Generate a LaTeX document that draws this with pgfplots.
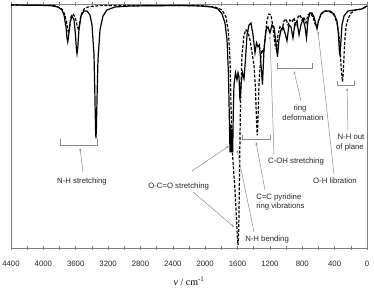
\documentclass[border=0pt]{standalone}
\usepackage{fontspec}
\setmainfont{Liberation Sans}
\newfontfamily\serif{Liberation Serif}
\usepackage{pgfplots}
\pgfplotsset{compat=1.18}
\usetikzlibrary{arrows.meta}
\definecolor{axgray}{gray}{0.5}
\definecolor{angray}{gray}{0.55}
\definecolor{txt}{gray}{0.15}
\begin{document}
\begin{tikzpicture}
\useasboundingbox (-11bp,-40bp) rectangle (363bp,248bp);
\begin{axis}[
  at={(0,0)}, anchor=south west, scale only axis,
  width=356bp, height=244bp,
  xmin=0, xmax=4400, x dir=reverse,
  ymin=-244, ymax=1,
  ytick=\empty,
  xtick={0,400,...,4400},
  minor xtick={200,600,...,4200},
  tick align=center,
  major tick length=4bp, minor tick length=4bp,
  axis line style={axgray, line width=0.6bp},
  every tick/.style={axgray, line width=0.5bp},
  xticklabel style={font=\fontsize{7.8}{9}\selectfont, text=txt, yshift=-7.5bp},
  /pgf/number format/assume math mode=true,
  /pgf/number format/1000 sep={},
  xlabel={{\serif\fontsize{10}{12}\selectfont\textit{ν} / cm\textsuperscript{-1}}},
  xlabel style={at={(axis description cs:0.5,0)}, anchor=center, yshift=-33bp},
  clip=false,
]
% sample 1 (solid)
\addplot[black, line width=1.2bp] coordinates {
(4400,0) (3918,-0.5) (3819,-2) (3770,-5) (3745,-10) (3720,-22) (3708,-33) (3699,-37) (3689,-32)
(3671,-18) (3646,-11) (3621,-15) (3603,-30) (3591,-45) (3584,-49) (3576,-44) (3560,-25)
(3535,-11) (3498,-6) (3461,-6) (3424,-10) (3399,-20) (3374,-50) (3362,-95) (3355,-125)
(3350,-134) (3345,-125) (3337,-95) (3325,-55) (3300,-25) (3263,-11) (3214,-5) (3115,-2)
(2929,-1) (2311,-0.5) (2064,-1) (1916,-2) (1842,-4) (1792,-9) (1755,-18) (1730,-35)
(1712,-70) (1700,-120) (1693,-148) (1685,-120) (1677,-148) (1669,-125) (1660,-148)
(1653,-110) (1644,-80) (1625,-68) (1607,-75) (1594,-68) (1582,-72) (1570,-96) (1557,-80)
(1539,-68) (1520,-74) (1502,-55) (1483,-30) (1458,-20) (1434,-18) (1409,-30) (1384,-48)
(1366,-38) (1347,-42) (1329,-40) (1310,-60) (1292,-80) (1273,-45) (1248,-25) (1224,-22)
(1199,-28) (1174,-20) (1149,-22) (1125,-38) (1106,-52) (1088,-35) (1063,-25) (1038,-22)
(1014,-28) (989,-36) (964,-20) (939,-22) (915,-33) (890,-18) (865,-17) (840,-30)
(816,-20) (791,-14) (766,-22) (748,-33) (729,-15) (705,-8) (680,-8) (655,-12) (630,-20)
(618,-24) (599,-16) (569,-9) (519,-6) (457,-6) (408,-9) (371,-16) (352,-30) (340,-48)
(334,-50) (325,-40) (309,-20) (284,-11) (235,-6) (148,-5) (62,-4) (0,-1)
};
% sample 2 (dashed)
\addplot[black, line width=1.2bp, dash pattern=on 3bp off 1.6bp] coordinates {
(4400,0) (3856,-0.5) (3770,-4) (3733,-10) (3708,-20) (3689,-28) (3677,-24) (3659,-12)
(3634,-9) (3609,-12) (3584,-20) (3566,-25) (3554,-20) (3535,-10) (3498,-4) (3448,-2)
(3300,-0.5) (2064,-0.5) (1879,-2) (1792,-5) (1743,-12) (1712,-28) (1693,-55) (1681,-100)
(1669,-140) (1650,-165) (1632,-185) (1613,-215) (1601,-235) (1594,-241) (1585,-225)
(1576,-170) (1564,-100) (1545,-50) (1520,-30) (1496,-25) (1471,-27) (1446,-35)
(1421,-48) (1397,-60) (1378,-85) (1366,-115) (1356,-131) (1347,-115) (1335,-80)
(1316,-55) (1298,-45) (1279,-48) (1261,-35) (1236,-15) (1211,-9) (1187,-10) (1162,-22)
(1137,-40) (1119,-45) (1100,-30) (1075,-22) (1051,-25) (1026,-16) (1001,-14) (976,-20)
(952,-15) (927,-17) (902,-13) (878,-20) (853,-12) (828,-10) (803,-15) (779,-12)
(754,-18) (729,-10) (705,-8) (667,-12) (637,-20) (618,-22) (593,-14) (556,-8) (519,-6)
(457,-7) (408,-10) (371,-18) (346,-30) (328,-50) (315,-68) (303,-77) (293,-68)
(278,-40) (260,-22) (235,-14) (198,-8) (136,-5) (62,-4) (0,-1)
};
\end{axis}
\begin{scope}[x=1bp, y=-1bp, shift={(-11bp,248bp)}, angray, line width=0.5bp,
  every node/.style={text=txt, font=\fontsize{7.8}{9.2}\selectfont, inner sep=0pt},
  arr/.style={-{Stealth[length=3bp,width=2bp]}}]
% N-H stretching
\draw (60,139) -- (60,145) -- (97,145) -- (97,139);
\draw[arr] (83,172) -- (80,148);
\node at (82,181) {N-H stretching};
% O-C=O stretching
\node[anchor=west] at (148,186) {O-C=O stretching};
\draw[arr] (192,171) -- (229,146);
\draw[arr] (193,192) -- (234,227);
% N-H bending
\node[anchor=west] at (245,239) {N-H bending};
\draw[arr] (254,232) -- (237,150);
% C=C pyridine
\draw (242,135) -- (242,139) -- (270,139) -- (270,135);
\draw[arr] (265,190) -- (256,142);
\node[anchor=west] at (256,197) {C=C pyridine};
\node[anchor=west] at (256,206) {ring vibrations};
% C-OH stretching
\draw[arr] (274,155) -- (270,36);
\node at (296,161) {C-OH stretching};
% ring deformation
\draw (277,63) -- (277,68) -- (312,68) -- (312,63);
\draw[arr] (301,101) -- (294,71);
\node at (300,108) {ring};
\node at (303,118) {deformation};
% N-H out of plane
\draw (337,81) -- (337,85) -- (354,85) -- (354,81);
\draw[arr] (348,130) -- (347,88);
\node at (351,137) {N-H out};
\node at (350,147) {of plane};
% O-H libration
\draw[arr] (334,174) -- (318,31);
\node at (335,181) {O-H libration};
\end{scope}
\end{tikzpicture}
\end{document}
